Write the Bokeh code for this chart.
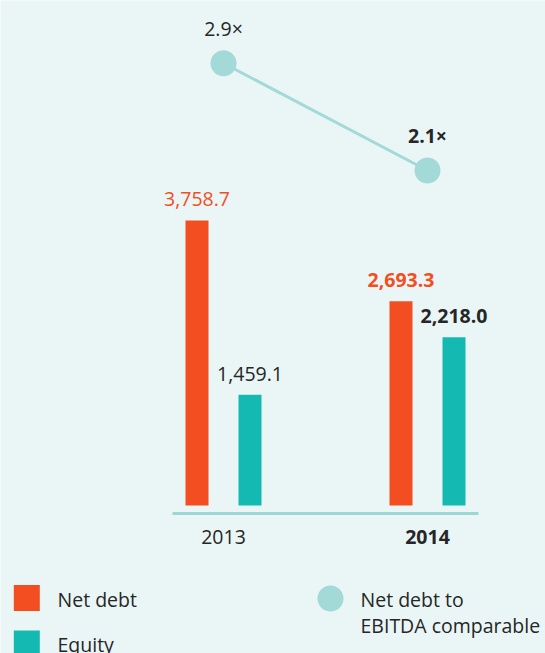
from bokeh.plotting import figure
from bokeh.models import Range1d
from bokeh.core.properties import value
from bokeh.embed import file_html
from bokeh.resources import INLINE

# ---- data ----
years = [2013, 2014]
year_labels = ["2013", "2014"]
net_debt = [3758.7, 2693.3]
equity = [1459.1, 2218.0]
ratio = [2.9, 2.1]
net_debt_labels = ["3,758.7", "2,693.3"]
equity_labels = ["1,459.1", "2,218.0"]
ratio_labels = ["2.9×", "2.1×"]
legend_labels = ["Net debt", "Equity", "Net debt to", "EBITDA comparable"]

# ---- style ----
BG = "#EAF6F6"
ORANGE = "#F24E22"
TEAL = "#14BAB2"
LIGHT = "#A3DAD8"
BASE = "#9DD7D4"
DARK = "#262626"
FONT = value("Open Sans")
FS = "19.5px"

W, H = 545, 653
p = figure(width=W, height=H, output_backend="svg", toolbar_location=None,
           x_axis_type=None, y_axis_type=None,
           x_range=Range1d(2011.9069, 2014.5784),
           y_range=Range1d(-1951.9, 6660.1),
           min_border=0, min_border_left=0, min_border_right=0,
           min_border_top=0, min_border_bottom=0)
p.extra_y_ranges = {"ratio": Range1d(-1.502, 3.368),
                    "py": Range1d(H, 0)}
p.extra_x_ranges = {"px": Range1d(0, W)}
p.background_fill_color = BG
p.border_fill_color = BG
p.outline_line_color = None

off = 0.1299
bw = 0.1127
nd_x = [y - off for y in years]
eq_x = [y + off for y in years]

# baseline
p.segment(x0=[years[0] - 0.25], x1=[years[-1] + 0.25], y0=[513], y1=[513],
          y_range_name="py", line_color=BASE, line_width=3)

# bars
p.vbar(x=nd_x, top=net_debt, bottom=0, width=bw, fill_color=ORANGE, line_color=None)
p.vbar(x=eq_x, top=equity, bottom=0, width=bw, fill_color=TEAL, line_color=None)

LBL = -21
# bar labels
p.text(x=nd_x[:1], y=net_debt[:1], text=net_debt_labels[:1], y_offset=LBL,
       text_align="center", text_baseline="alphabetic", text_color=ORANGE,
       text_font=FONT, text_font_size=FS)
p.text(x=nd_x[1:], y=net_debt[1:], text=net_debt_labels[1:], y_offset=LBL,
       text_align="center", text_baseline="alphabetic", text_color=ORANGE,
       text_font=FONT, text_font_size=FS, text_font_style="bold")
p.text(x=eq_x[:1], y=equity[:1], text=equity_labels[:1], y_offset=LBL,
       text_align="center", text_baseline="alphabetic", text_color=DARK,
       text_font=FONT, text_font_size=FS)
p.text(x=eq_x[1:], y=equity[1:], text=equity_labels[1:], y_offset=LBL,
       text_align="center", text_baseline="alphabetic", text_color=DARK,
       text_font=FONT, text_font_size=FS, text_font_style="bold")

# year labels
p.text(x=years[:1], y=[0], text=year_labels[:1], y_offset=32,
       text_align="center", text_baseline="alphabetic", text_color=DARK,
       text_font=FONT, text_font_size=FS)
p.text(x=years[1:], y=[0], text=year_labels[1:], y_offset=32,
       text_align="center", text_baseline="alphabetic", text_color=DARK,
       text_font=FONT, text_font_size=FS, text_font_style="bold")

# ratio line
p.line(x=years, y=ratio, y_range_name="ratio", line_color=LIGHT, line_width=3)
p.scatter(x=years, y=ratio, y_range_name="ratio", size=26, marker="circle",
          fill_color=LIGHT, line_color=None)
p.text(x=years[:1], y=ratio[:1], text=ratio_labels[:1], y_range_name="ratio",
       y_offset=-35, text_align="center", text_baseline="alphabetic",
       text_color=DARK, text_font=FONT, text_font_size=FS)
p.text(x=years[1:], y=ratio[1:], text=ratio_labels[1:], y_range_name="ratio",
       y_offset=-35, text_align="center", text_baseline="alphabetic",
       text_color=DARK, text_font=FONT, text_font_size=FS, text_font_style="bold")

# legend (pixel coordinates)
p.rect(x=[26.3, 26.3], y=[597.5, 643], width=26, height=26,
       x_range_name="px", y_range_name="py",
       fill_color=[ORANGE, TEAL], line_color=None)
p.scatter(x=[330], y=[598], size=26, marker="circle",
          x_range_name="px", y_range_name="py",
          fill_color=LIGHT, line_color=None)
p.text(x=[57, 57, 360, 360], y=[599, 644, 599, 625], text=legend_labels,
       x_range_name="px", y_range_name="py",
       text_align="left", text_baseline="alphabetic", text_color=DARK,
       text_font=FONT, text_font_size=FS)

open("out.html", "w").write(file_html(p, INLINE))
